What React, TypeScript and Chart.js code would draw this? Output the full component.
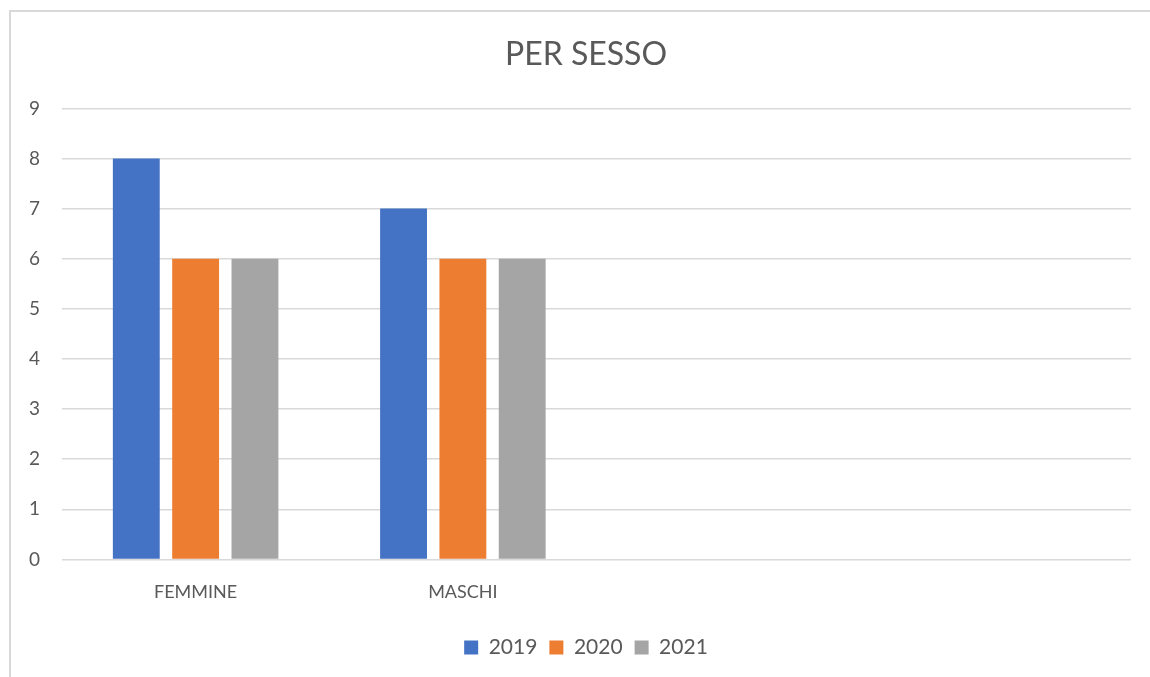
import React, { useEffect, useRef } from "react";
import { Chart, registerables } from "chart.js";

Chart.register(...registerables);

const categories = ["FEMMINE", "MASCHI", "", ""];
const series2019 = [8, 7, null, null];
const series2020 = [6, 6, null, null];
const series2021 = [6, 6, null, null];
const seriesNames = ["2019", "2020", "2021"];
const chartTitle = "PER SESSO";

const FONT = "Lato, 'Open Sans', sans-serif";
const TEXT = "#595959";

export default function App() {
  const ref = useRef<HTMLCanvasElement | null>(null);
  useEffect(() => {
    if (!ref.current) return;
    const chart = new Chart(ref.current, {
      type: "bar",
      data: {
        labels: categories,
        datasets: [
          { label: seriesNames[0], data: series2019, backgroundColor: "#4472C4" },
          { label: seriesNames[1], data: series2020, backgroundColor: "#ED7D31" },
          { label: seriesNames[2], data: series2021, backgroundColor: "#A5A5A5" },
        ],
      },
      options: {
        animation: false,
        responsive: false,
        maintainAspectRatio: false,
        datasets: { bar: { categoryPercentage: 0.666, barPercentage: 0.79 } },
        layout: { padding: { left: 0, right: 0, top: 0, bottom: 10 } },
        plugins: {
          tooltip: { enabled: false },
          title: {
            display: true,
            text: chartTitle,
            color: TEXT,
            font: { family: FONT, size: 32, weight: "normal" },
            padding: { top: 23, bottom: 35 },
          },
          legend: {
            position: "bottom",
            labels: {
              color: TEXT,
              font: { family: FONT, size: 21 },
              boxWidth: 14,
              boxHeight: 14,
              padding: 12,
            },
          },
        },
        scales: {
          x: {
            grid: { display: false, drawTicks: false },
            border: { display: false },
            ticks: { color: TEXT, font: { family: FONT, size: 18 }, padding: 22 },
          },
          y: {
            min: 0,
            max: 9,
            ticks: { stepSize: 1, color: TEXT, font: { family: FONT, size: 19 }, padding: 22 },
            grid: { color: "#d9d9d9", lineWidth: 1.5, drawTicks: false },
            border: { display: false },
            afterFit: (s: any) => {
              s.width = 51;
            },
          },
          yRight: {
            position: "right",
            min: 0,
            max: 9,
            grid: { display: false, drawTicks: false },
            border: { display: false },
            ticks: { display: false },
            afterFit: (s: any) => {
              s.width = 30;
            },
          },
        },
      },
    });
    return () => chart.destroy();
  }, []);

  return (
    <div style={{ position: "fixed", left: 0, top: 0, width: 1150, height: 677, overflow: "hidden", background: "#fff" }}>
      <div
        style={{
          position: "absolute",
          left: 9,
          top: 10,
          width: 1152,
          height: 680,
          borderTop: "2px solid #d9d9d9",
          borderLeft: "2px solid #d9d9d9",
          boxSizing: "border-box",
        }}
      >
        <canvas ref={ref} width={1150} height={666} style={{ display: "block" }} />
      </div>
    </div>
  );
}
